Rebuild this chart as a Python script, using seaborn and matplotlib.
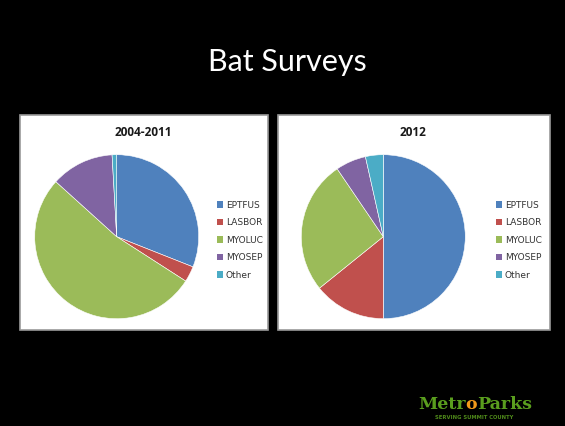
import matplotlib
matplotlib.use("Agg")
import matplotlib.pyplot as plt
from matplotlib.patches import Rectangle, Patch
import seaborn as sns

species = ["EPTFUS", "LASBOR", "MYOLUC", "MYOSEP", "Other"]
share_2004_2011 = [31.0, 3.1, 52.6, 12.4, 0.9]
share_2012 = [50.0, 14.2, 26.3, 6.0, 3.5]
panel_titles = ["2004-2011", "2012"]

colors = sns.color_palette(["#4F81BD", "#C0504D", "#9BBB59", "#8064A2", "#4BACC6"])

sns.set_theme(style="white")
plt.rcParams['font.family'] = ['DejaVu Sans']

W, H = 565, 426
fig = plt.figure(figsize=(W / 100, H / 100), dpi=100, facecolor="black")


def fx(px):
    return px / W


def fy(py):
    return 1 - py / H


# white chart panels, kept behind the pies
for x0, x1 in [(19.5, 267.5), (277.5, 549.5)]:
    fig.patches.append(Rectangle((fx(x0), fy(330)), fx(x1 - x0), (330 - 115) / H,
                                 transform=fig.transFigure, facecolor="white",
                                 edgecolor="#9a9a9a", linewidth=1.2, zorder=-5))

fig.text(fx(287), fy(62), "Bat Surveys", color="white", fontsize=22,
         family="Lato", ha="center", va="center")

r = 82
centers = [(116.7, 236.7), (383.3, 236.7)]
title_x = [143, 413]
legend_x = [212, 491]

for i, (vals, title) in enumerate(zip([share_2004_2011, share_2012], panel_titles)):
    cx, cy = centers[i]
    ax = fig.add_axes([fx(cx - r), fy(cy + r), fx(2 * r), 2 * r / H])
    ax.set_zorder(2)
    ax.patch.set_alpha(0)
    ax.pie(vals, colors=colors, startangle=90, counterclock=False,
           wedgeprops=dict(linewidth=0.4, edgecolor="white"))
    ax.set_xlim(-1.0, 1.0)
    ax.set_ylim(-1.0, 1.0)
    ax.set_aspect("equal")
    ax.axis("off")
    fig.text(fx(title_x[i]), fy(132), title, fontsize=8.5, fontweight="bold",
             color="#1a1a1a", ha="center", va="center", family="Open Sans")
    handles = [Patch(facecolor=c, edgecolor="none", label=s) for c, s in zip(colors, species)]
    leg = fig.legend(handles=handles, loc="upper left",
                     bbox_to_anchor=(fx(legend_x[i]), fy(196)),
                     frameon=False, fontsize=6.5, handlelength=0.75, handleheight=0.75,
                     handletextpad=0.3, labelspacing=0.95, borderpad=0,
                     labelcolor="#333333")
    leg.set_zorder(3)

# logo
logo_green = "#5a9e1e"
fig.text(fx(418), fy(409), "Metr", color=logo_green, fontsize=12.5, fontweight="bold",
         family="DejaVu Serif", ha="left", va="baseline")
fig.text(fx(465), fy(409), "o", color="#f29a1a", fontsize=12.5, fontweight="bold",
         family="DejaVu Serif", ha="left", va="baseline")
fig.text(fx(477), fy(409), "Parks", color=logo_green, fontsize=12.5, fontweight="bold",
         family="DejaVu Serif", ha="left", va="baseline")
fig.text(fx(474), fy(417.5), "SERVING SUMMIT COUNTY", color="#4f8a1a", fontsize=3.8,
         fontweight="bold", ha="center", va="center")

fig.savefig("out.png", dpi=100, facecolor="black")
